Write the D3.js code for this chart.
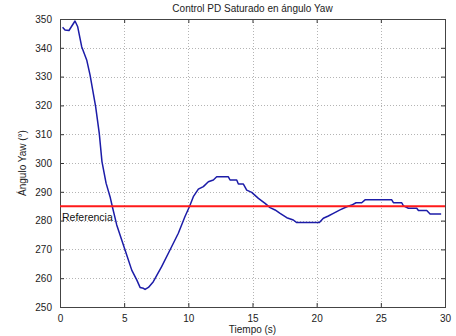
<!DOCTYPE html>
<html>
<head>
<meta charset="utf-8">
<script src="https://cdn.jsdelivr.net/npm/d3@7"></script>
<style>
  body { margin: 0; background: #fff; }
  text { font-family: "Liberation Sans", Arial, sans-serif; }
</style>
</head>
<body>
<svg width="456" height="336"></svg>
<script>
// time (s)
var tiempo = [0.2, 0.39, 0.7, 1.17, 1.38, 1.69, 2.08, 2.34, 2.55, 2.78, 3.06, 3.27, 3.59, 3.9, 4.08,
  4.42, 5.07, 5.59, 5.98, 6.24, 6.5, 6.63, 6.89, 7.27, 7.92, 8.57, 9.22, 9.74, 10.1, 10.39, 10.78,
  11.17, 11.56, 11.95, 12.21, 13.12, 13.25, 13.77, 13.9, 14.29, 14.55, 14.94, 15.46, 15.98, 16.37,
  16.76, 17.15, 17.67, 18.18, 18.45, 20.21, 20.52, 20.91, 21.3, 21.82, 22.35, 22.73, 23.07, 23.51,
  23.77, 25.85, 25.98, 26.63, 26.76, 27.15, 27.8, 27.93, 28.58, 28.84, 29.7];
// yaw angle (deg)
var yaw = [347.1, 346.2, 346, 349.3, 347.3, 340.4, 335.8, 330.6, 325.3, 319.5, 310.3, 300.5, 293, 288.3, 284.8,
  278.5, 269.8, 262.8, 259.4, 256.8, 256.5, 256.1, 256.8, 258.8, 264, 269.8, 275.6, 281.4, 285, 288.3, 290.9,
  291.8, 293.5, 294.1, 295.2, 295.2, 294.1, 294.1, 292.7, 292.7, 290.6, 289.8, 287.7, 286, 284.5,
  283.7, 282.5, 281, 280.2, 279.3, 279.3, 280.8, 281.6, 282.5, 283.7, 284.8, 285.4, 286.2, 286.2,
  287.2, 287.2, 286.2, 286.2, 285.1, 284.3, 284.3, 283.5, 283.5, 282.3, 282.3];
var referencia = 285;
var xTicks = [0, 5, 10, 15, 20, 25, 30];
var yTicks = [250, 260, 270, 280, 290, 300, 310, 320, 330, 340, 350];

var svg = d3.select("svg");
var mLeft = 60, mRight = 445, mTop = 19, mBottom = 307;

var x = d3.scaleLinear().domain([0, 30]).range([mLeft, mRight]);
var y = d3.scaleLinear().domain([250, 350]).range([mBottom, mTop]);

// grid
var grid = svg.append("g")
    .attr("stroke", "#b4b4b4")
    .attr("stroke-width", 1)
    .attr("stroke-dasharray", "1,2");
grid.selectAll("line.gx")
    .data(xTicks.slice(1, -1))
  .enter().append("line")
    .attr("x1", function(d) { return Math.round(x(d)) + 0.5; })
    .attr("x2", function(d) { return Math.round(x(d)) + 0.5; })
    .attr("y1", mTop).attr("y2", mBottom);
grid.selectAll("line.gy")
    .data(yTicks.slice(1, -1))
  .enter().append("line")
    .attr("y1", function(d) { return Math.round(y(d)) + 0.5; })
    .attr("y2", function(d) { return Math.round(y(d)) + 0.5; })
    .attr("x1", mLeft).attr("x2", mRight);

// axes (ticks point inward, mirrored on top and right)
var tickStyle = function(g) {
  g.select(".domain").remove();
  g.selectAll("text").attr("fill", "#222").style("font-size", "10px");
  g.selectAll("line").attr("stroke", "#333");
};
svg.append("g")
    .attr("transform", "translate(0," + mBottom + ")")
    .call(d3.axisBottom(x).tickValues(xTicks).tickSizeInner(-4).tickSizeOuter(0).tickPadding(8))
    .call(tickStyle);
svg.append("g")
    .attr("transform", "translate(" + mLeft + ",0)")
    .call(d3.axisLeft(y).tickValues(yTicks).tickSizeInner(-4).tickSizeOuter(0).tickPadding(8))
    .call(tickStyle);
svg.append("g")
    .attr("transform", "translate(0," + mTop + ")")
    .call(d3.axisTop(x).tickValues(xTicks).tickSizeInner(-4).tickSizeOuter(0).tickFormat(""))
    .call(tickStyle);
svg.append("g")
    .attr("transform", "translate(" + mRight + ",0)")
    .call(d3.axisRight(y).tickValues(yTicks).tickSizeInner(-4).tickSizeOuter(0).tickFormat(""))
    .call(tickStyle);

svg.append("rect")
    .attr("x", mLeft + 0.5).attr("y", mTop + 0.5)
    .attr("width", mRight - mLeft).attr("height", mBottom - mTop)
    .attr("fill", "none").attr("stroke", "#444");

// series
var line = d3.line()
    .x(function(d) { return x(d[0]); })
    .y(function(d) { return y(d[1]); });
svg.append("path")
    .datum(d3.zip(tiempo, yaw))
    .attr("d", line)
    .attr("fill", "none")
    .attr("stroke", "#1c1ca8")
    .attr("stroke-width", 1.5)
    .attr("stroke-linejoin", "round");

svg.append("line")
    .attr("x1", x(0)).attr("x2", x(30))
    .attr("y1", y(referencia)).attr("y2", y(referencia))
    .attr("stroke", "#ff1a1a")
    .attr("stroke-width", 2);

svg.append("text")
    .attr("x", x(0) + 2).attr("y", y(referencia) + 15)
    .style("font-size", "10.5px").attr("fill", "#111")
    .text("Referencia");

// labels
svg.append("text")
    .attr("x", (mLeft + mRight) / 2).attr("y", 12)
    .attr("text-anchor", "middle")
    .style("font-size", "10px").attr("fill", "#222")
    .text("Control PD Saturado en ángulo Yaw");
svg.append("text")
    .attr("x", (mLeft + mRight) / 2).attr("y", 333)
    .attr("text-anchor", "middle")
    .style("font-size", "10px").attr("fill", "#222")
    .text("Tiempo (s)");
svg.append("text")
    .attr("transform", "translate(26," + (mTop + mBottom) / 2 + ") rotate(-90)")
    .attr("text-anchor", "middle")
    .style("font-size", "10px").attr("fill", "#222")
    .text("Ángulo Yaw (°)");
</script>
</body>
</html>
